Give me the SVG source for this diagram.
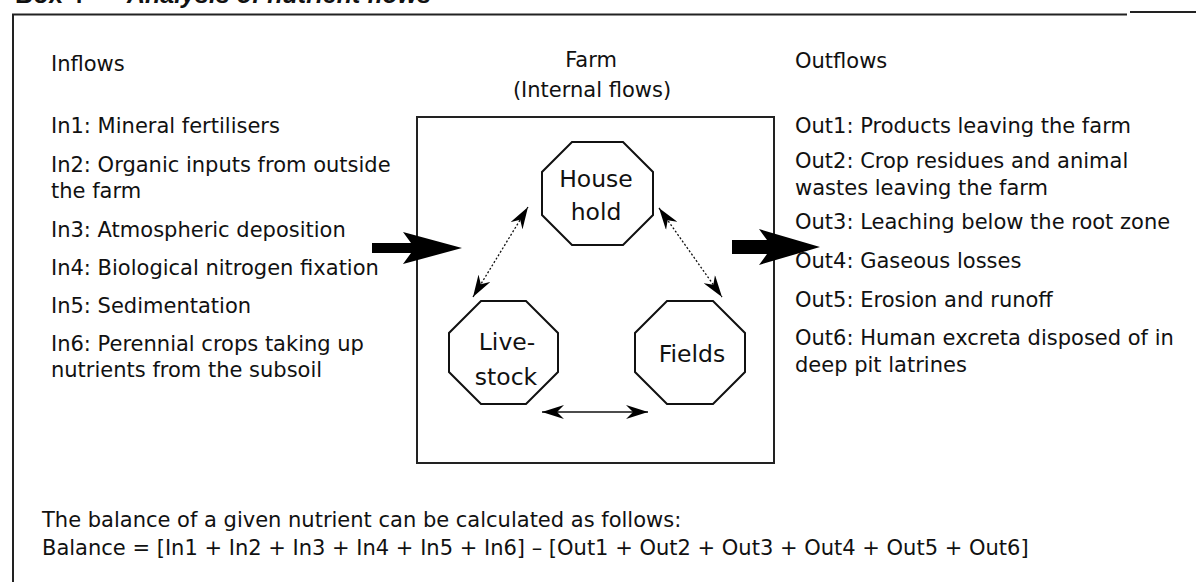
<svg xmlns="http://www.w3.org/2000/svg" width="1196" height="582" viewBox="0 0 1196 582">
<style>
.t{font-family:"DejaVu Sans","Liberation Sans",sans-serif;font-size:21px;fill:#111}
.n{font-family:"DejaVu Sans","Liberation Sans",sans-serif;font-size:23.5px;fill:#111;text-anchor:middle}
.ttl{font-family:"Liberation Sans",Arial,sans-serif;font-size:25px;font-weight:bold;fill:#111}
.oct{fill:#fff;stroke:#111;stroke-width:2}
.frame{fill:none;stroke:#222;stroke-width:2}
.dot{fill:none;stroke:#111;stroke-width:1.3;stroke-dasharray:2 2;marker-start:url(#ah);marker-end:url(#ah)}
.sol{fill:none;stroke:#111;stroke-width:1.3;marker-start:url(#ah);marker-end:url(#ah)}
.big{fill:#000}
</style>
<defs>
<marker id="ah" markerUnits="userSpaceOnUse" markerWidth="22" markerHeight="14" refX="22" refY="7" orient="auto-start-reverse" viewBox="0 0 22 14">
<path d="M0,0 L22,7 L0,14 L7,7 Z" fill="#000"/>
</marker>
</defs>

<g id="title">
<text class="ttl" x="15" y="3">Box 4<tspan x="127" font-style="italic">Analysis of nutrient flows</tspan></text>
</g>

<g id="frame">
<path class="frame" d="M13,582 L13,14.5 L1127,14.5"/>
<path class="frame" d="M1130,12 L1196,12"/>
</g>

<g id="farm">
<rect class="frame" x="417" y="117" width="357" height="346"/>
<text class="t" x="591" y="67" text-anchor="middle">Farm</text>
<text class="t" x="592" y="97" text-anchor="middle">(Internal flows)</text>
</g>

<g id="inflows">
<text class="t" x="51" y="71">Inflows</text>
<text class="t" x="51" y="133">In1: Mineral fertilisers</text>
<text class="t" x="51" y="172">In2: Organic inputs from outside</text>
<text class="t" x="51" y="198">the farm</text>
<text class="t" x="51" y="237">In3: Atmospheric deposition</text>
<text class="t" x="51" y="275">In4: Biological nitrogen fixation</text>
<text class="t" x="51" y="313">In5: Sedimentation</text>
<text class="t" x="51" y="351">In6: Perennial crops taking up</text>
<text class="t" x="51" y="377">nutrients from the subsoil</text>
</g>

<g id="outflows">
<text class="t" x="795" y="68">Outflows</text>
<text class="t" x="795" y="133">Out1: Products leaving the farm</text>
<text class="t" x="795" y="168">Out2: Crop residues and animal</text>
<text class="t" x="795" y="195">wastes leaving the farm</text>
<text class="t" x="795" y="229">Out3: Leaching below the root zone</text>
<text class="t" x="795" y="268">Out4: Gaseous losses</text>
<text class="t" x="795" y="307">Out5: Erosion and runoff</text>
<text class="t" x="795" y="345">Out6: Human excreta disposed of in</text>
<text class="t" x="795" y="372">deep pit latrines</text>
</g>

<g id="household">
<path class="oct" d="M572,142 L623,142 L653,172 L653,215 L623,245 L572,245 L542,215 L542,172 Z"/>
<text class="n" x="596" y="187">House</text>
<text class="n" x="596" y="220">hold</text>
</g>

<g id="livestock">
<path class="oct" d="M481,301 L526,301 L558,333 L558,372 L526,404 L481,404 L449,372 L449,333 Z"/>
<text class="n" x="507" y="350">Live-</text>
<text class="n" x="506" y="385">stock</text>
</g>

<g id="fields">
<path class="oct" d="M667,301 L713,301 L745,333 L745,372 L713,404 L667,404 L635,372 L635,333 Z"/>
<text class="n" x="692" y="362">Fields</text>
</g>

<g id="connectors">
<path class="dot" d="M473,297 L528,207"/>
<path class="dot" d="M659,208 L722,297"/>
<path class="sol" d="M542,412 L648,412"/>
<polygon class="big" points="372,243 411,243 403,232 462,248 403,264 411,253 372,253"/>
<polygon class="big" points="732,240 767,240 759,229 820,247 759,265 767,254 732,254"/>
</g>

<g id="balance">
<text class="t" x="42" y="527">The balance of a given nutrient can be calculated as follows:</text>
<text class="t" x="42" y="555">Balance = [In1 + In2 + In3 + In4 + In5 + In6] – [Out1 + Out2 + Out3 + Out4 + Out5 + Out6]</text>
</g>
</svg>
